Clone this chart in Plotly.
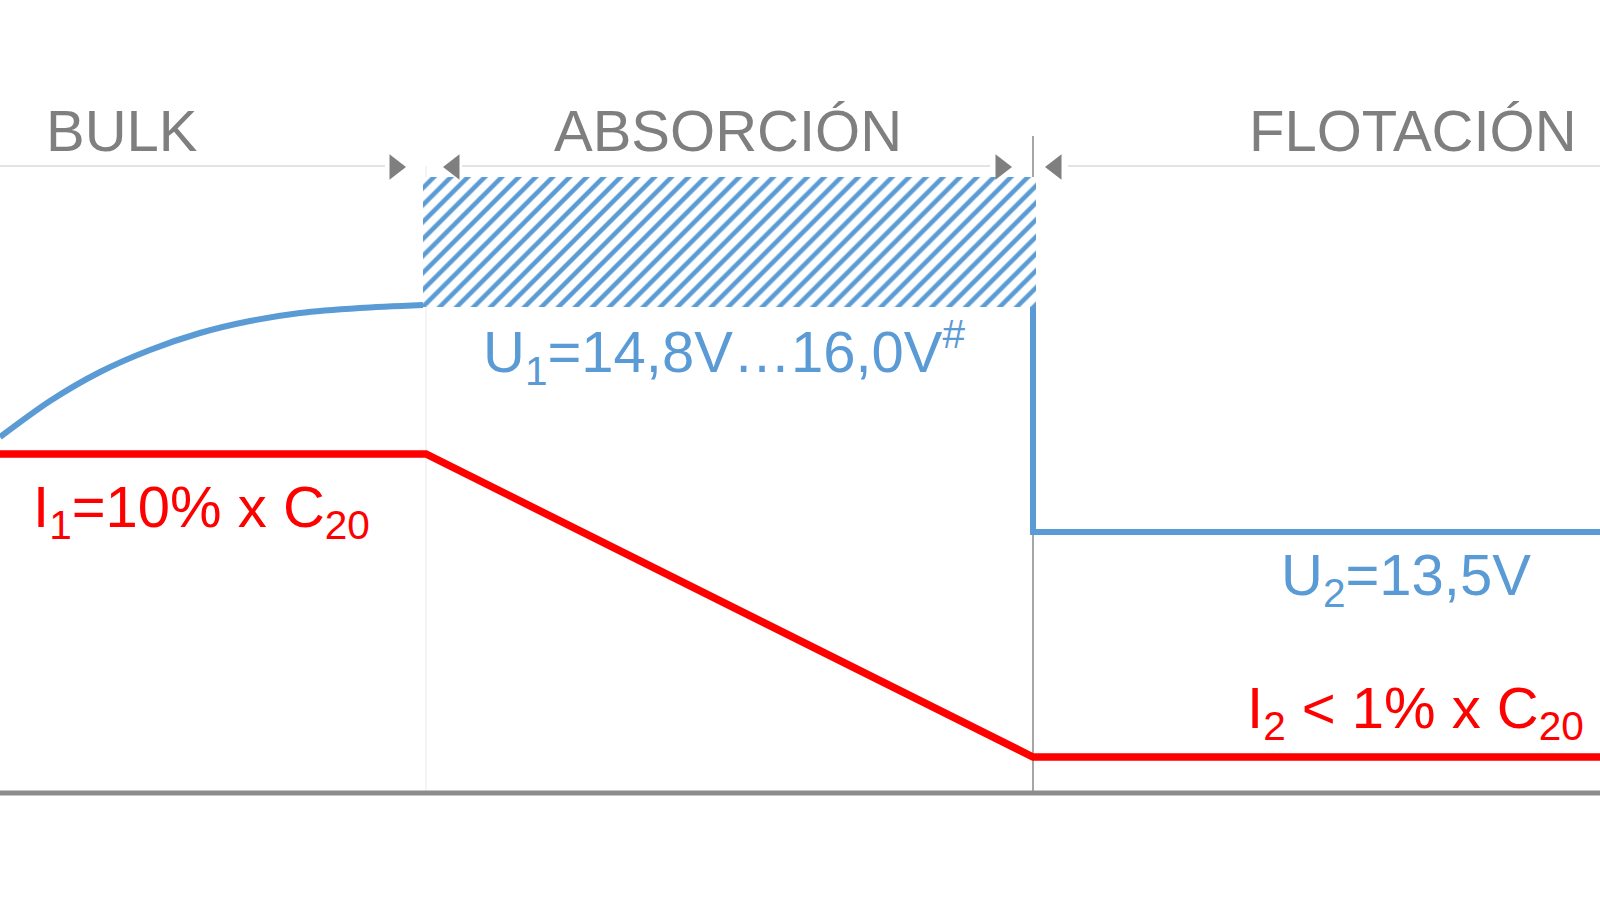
import plotly.graph_objects as go

# ---- data (schematic charge profile, arbitrary time / level units) ----
phase_names = ["BULK", "ABSORCIÓN", "FLOTACIÓN"]
phase_bounds = [0.0, 4.26, 10.33, 16.0]          # time at phase limits

# voltage curve during bulk phase
bulk_t = [0.0, 0.5, 1.0, 1.5, 2.0, 2.5, 3.0, 3.6, 4.23]
bulk_u = [46.3, 49.9, 52.8, 55.0, 56.7, 57.9, 58.7, 59.2, 59.5]

u1_band = [59.3, 72.3]      # absorption voltage band (U1 range)
u2_level = 36.8             # float voltage U2
i1_level = 44.6             # bulk current I1
i2_level = 14.3             # float current I2
baseline_level = 10.7

labels = {
    "u1": "U<sub>1</sub>=14,8V…16,0V<sup>#</sup>",
    "i1": "I<sub>1</sub>=10% x C<sub>20</sub>",
    "u2": "U<sub>2</sub>=13,5V",
    "i2": "I<sub>2</sub> &lt; 1% x C<sub>20</sub>",
}

BLUE = "#5B9BD5"
RED = "#FF0000"
GRAY = "#7F7F7F"
FONT = "Liberation Sans, Arial, sans-serif"

t0, tb, ta, te = phase_bounds

fig = go.Figure()

# hatched absorption band
fig.add_trace(go.Bar(
    x=[(4.23 + 10.36) / 2], y=[u1_band[1] - u1_band[0]], base=[u1_band[0]],
    width=[10.36 - 4.23],
    marker=dict(color="white", line=dict(width=0),
                pattern=dict(shape="/", fgcolor=BLUE, bgcolor="white", fgopacity=1,
                             size=12, solidity=0.38, fillmode="replace")),
    showlegend=False, hoverinfo="skip"))

# voltage curve
fig.add_trace(go.Scatter(
    x=bulk_t, y=bulk_u,
    mode="lines", line=dict(color=BLUE, width=6, shape="spline", smoothing=0.8),
    showlegend=False, hoverinfo="skip"))
fig.add_trace(go.Scatter(
    x=[ta, ta, te], y=[u1_band[0], u2_level, u2_level],
    mode="lines", line=dict(color=BLUE, width=6),
    showlegend=False, hoverinfo="skip"))

# current curve
fig.add_trace(go.Scatter(
    x=[t0, tb, ta, te], y=[i1_level, i1_level, i2_level, i2_level],
    mode="lines", line=dict(color=RED, width=7.5),
    showlegend=False, hoverinfo="skip"))

# phase arrows
fig.add_trace(go.Scatter(
    x=[3.95, 10.01], y=[73.3, 73.3], mode="markers",
    marker=dict(symbol="triangle-right", size=22, color=GRAY),
    showlegend=False, hoverinfo="skip"))
fig.add_trace(go.Scatter(
    x=[4.54, 10.56], y=[73.3, 73.3], mode="markers",
    marker=dict(symbol="triangle-left", size=22, color=GRAY),
    showlegend=False, hoverinfo="skip"))

shapes = [
    # header line segments
    dict(type="line", x0=0, x1=3.85, y0=73.4, y1=73.4, line=dict(color="#E3E3E3", width=2)),
    dict(type="line", x0=4.62, x1=9.9, y0=73.4, y1=73.4, line=dict(color="#E3E3E3", width=2)),
    dict(type="line", x0=10.68, x1=te, y0=73.4, y1=73.4, line=dict(color="#E3E3E3", width=2)),
    # phase separators
    dict(type="line", x0=tb, x1=tb, y0=73.4, y1=baseline_level, line=dict(color="#F0F0F0", width=1.5), layer="below"),
    dict(type="line", x0=ta, x1=ta, y0=76.4, y1=baseline_level, line=dict(color="#A6A6A6", width=2), layer="below"),
    # baseline
    dict(type="line", x0=0, x1=te, y0=baseline_level, y1=baseline_level, line=dict(color="#8C8C8C", width=5)),
]

ann = []
for name, xc in zip(phase_names, [1.215, 7.28, 14.13]):
    ann.append(dict(x=xc, y=77.0, text=name, showarrow=False, xanchor="center", yanchor="middle",
                    font=dict(family=FONT, size=58, color=GRAY)))
ann.append(dict(x=7.24, y=54.8, text=labels["u1"], showarrow=False, xanchor="center", yanchor="middle",
                font=dict(family=FONT, size=58, color=BLUE)))
ann.append(dict(x=2.01, y=38.9, text=labels["i1"], showarrow=False, xanchor="center", yanchor="middle",
                font=dict(family=FONT, size=58, color=RED)))
ann.append(dict(x=14.06, y=32.1, text=labels["u2"], showarrow=False, xanchor="center", yanchor="middle",
                font=dict(family=FONT, size=58, color=BLUE)))
ann.append(dict(x=14.15, y=18.8, text=labels["i2"], showarrow=False, xanchor="center", yanchor="middle",
                font=dict(family=FONT, size=58, color=RED)))

fig.update_layout(
    width=1600, height=900, margin=dict(l=0, r=0, t=0, b=0),
    paper_bgcolor="white", plot_bgcolor="white",
    xaxis=dict(range=[0, 16], visible=False, fixedrange=True),
    yaxis=dict(range=[0, 90], visible=False, fixedrange=True),
    shapes=shapes, annotations=ann, barmode="overlay", bargap=0,
)

fig.write_html("out.html", config={"displayModeBar": False},
               post_script="document.body.style.margin='0';document.body.style.overflow='hidden';")
